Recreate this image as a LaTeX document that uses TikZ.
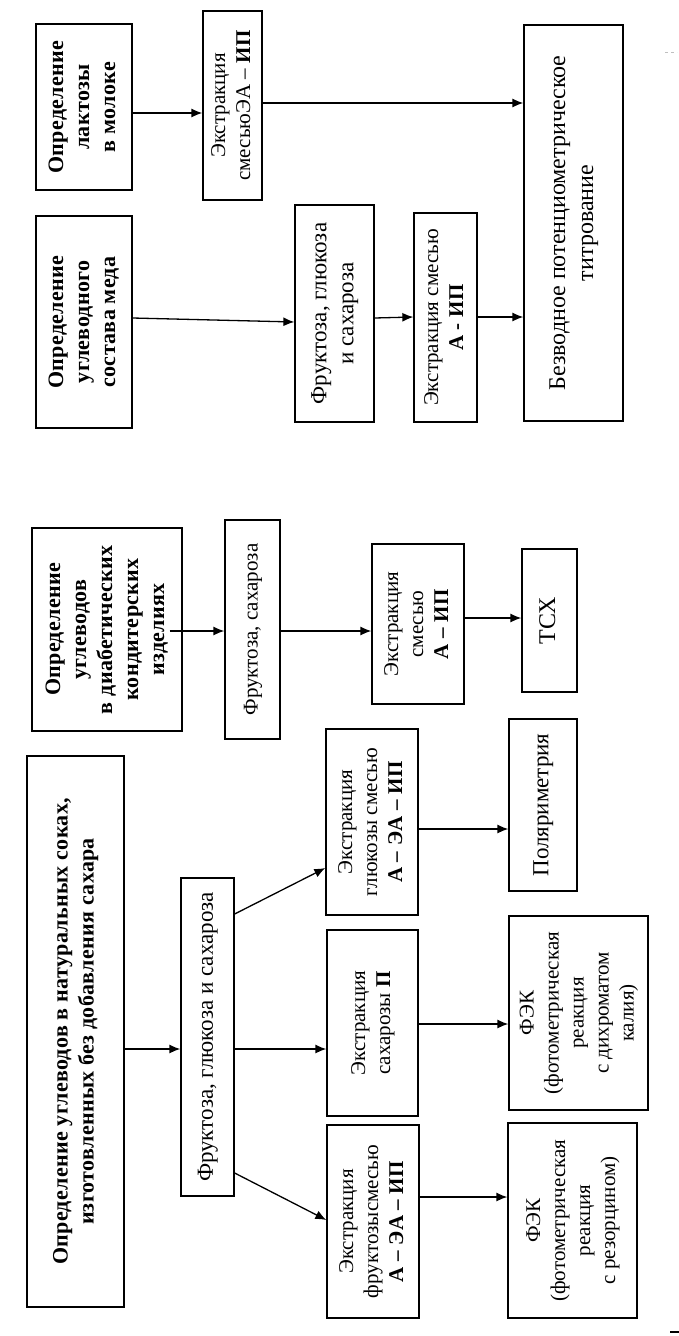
\documentclass[tikz,border=0pt]{standalone}
\usepackage{fontspec}
\setmainfont{Liberation Serif}[BoldFeatures={LetterSpace=1.5}]
\usepackage{graphicx}
\usetikzlibrary{arrows.meta}
\newcommand{\vtext}[1]{\rotatebox{90}{\begin{tabular}{@{}c@{}}#1\end{tabular}}}

\begin{document}
\begin{tikzpicture}[->,>={Latex[length=11pt,width=9pt]},x=1pt,y=-1pt,
                    line width=1.3pt]
  \tikzstyle{block}=[rectangle,draw=black,fill=white,inner sep=0pt,
                     font=\fontsize{21}{25}\selectfont]
  \tikzstyle{head}=[block,font=\bfseries\fontsize{22}{26}\selectfont]
  \tikzstyle{big}=[block,font=\fontsize{23}{27}\selectfont]
  \useasboundingbox (0,0) rectangle (679,1336);

  % milk
  \node[head,minimum width=96pt,minimum height=166pt] (lact) at (84,107)
    {\vtext{Определение\\лактозы\\в молоке}};
  \node[block,minimum width=59pt,minimum height=189pt] (extrEA) at (232.5,105.5)
    {\vtext{Экстракция\\смесьюЭА – \textbf{ИП}}};
  \node[big,font=\fontsize{24}{28}\selectfont,minimum width=99pt,minimum height=396pt] (bezv) at (573.5,223)
    {\vtext{Безводное потенциометрическое\\титрование}};

  % honey
  \node[head,minimum width=96pt,minimum height=212pt] (med) at (84,322)
    {\vtext{Определение\\углеводного\\состава меда}};
  \node[big,minimum width=79pt,minimum height=217pt] (fgs) at (334.5,313.5)
    {\vtext{Фруктоза, глюкоза\\и сахароза}};
  \node[block,minimum width=63pt,minimum height=209pt] (extrA) at (445.5,317.5)
    {\vtext{Экстракция смесью\\\textbf{А - ИП}}};

  % confectionery
  \node[head,minimum width=150pt,minimum height=203pt] (diab) at (107,629.5)
    {\vtext{Определение\\углеводов\\в диабетических\\кондитерских\\изделиях}};
  \node[block,minimum width=55pt,minimum height=219pt] (fs) at (252.5,629.5)
    {\vtext{Фруктоза, сахароза}};
  \node[block,minimum width=92pt,minimum height=160pt] (extrA2) at (418,624)
    {\vtext{Экстракция\\смесью\\\textbf{А – ИП}}};
  \node[big,font=\fontsize{24}{28}\selectfont,minimum width=55pt,minimum height=143pt] (tsx) at (549.5,620.5)
    {\vtext{ТСХ}};

  % juices
  \node[head,minimum width=97pt,minimum height=551pt] (sok) at (75.5,1031.5)
    {\vtext{Определение углеводов в натуральных соках,\\изготовленных без добавления сахара}};
  \node[big,minimum width=53pt,minimum height=318pt] (fgs2) at (207.5,1037)
    {\vtext{Фруктоза, глюкоза и сахароза}};
  \node[block,minimum width=92pt,minimum height=186pt] (extrGlu) at (372,822)
    {\vtext{Экстракция\\глюкозы смесью\\\textbf{А – ЭА – ИП}}};
  \node[big,minimum width=68pt,minimum height=172pt] (polar) at (543,805)
    {\vtext{Поляриметрия}};
  \node[block,minimum width=91pt,minimum height=186pt] (extrSach) at (372.5,1023)
    {\vtext{Экстракция\\сахарозы \textbf{П}}};
  \node[block,minimum width=139pt,minimum height=194pt] (fekD) at (578.5,1013)
    {\vtext{ФЭК\\(фотометрическая\\реакция\\с дихроматом\\калия)}};
  \node[block,minimum width=92pt,minimum height=193pt] (extrFr) at (373,1221.5)
    {\vtext{Экстракция\\фруктозысмесью\\\textbf{А – ЭА – ИП}}};
  \node[block,minimum width=129pt,minimum height=195pt] (fekR) at (572.5,1220.5)
    {\vtext{ФЭК\\(фотометрическая\\реакция\\с резорцином)}};

  \path (lact.east |- 0,113) edge (extrEA.west |- 0,113)
        (extrEA.east |- 0,103) edge (bezv.west |- 0,103)
        (med.east |- 0,318) edge (fgs.west |- 0,322)
        (fgs.east |- 0,318) edge (extrA.west |- 0,317)
        (extrA.east |- 0,317) edge (bezv.west |- 0,317)
        (diab.east |- 0,631) ++(-13,0) edge (fs.west |- 0,631)
        (fs.east |- 0,631) edge (extrA2.west |- 0,631)
        (extrA2.east |- 0,618) edge (tsx.west |- 0,618)
        (sok.east |- 0,1049) edge (fgs2.west |- 0,1049)
        (fgs2.east |- 0,914) edge (extrGlu.west |- 0,868)
        (fgs2.east |- 0,1049) edge (extrSach.west |- 0,1049)
        (fgs2.east |- 0,1173) edge (extrFr.west |- 0,1220)
        (extrGlu.east |- 0,829) edge (polar.west |- 0,829)
        (extrSach.east |- 0,1024) edge (fekD.west |- 0,1024)
        (extrFr.east |- 0,1197) edge (fekR.west |- 0,1197);

  \draw[-,gray!50,dashed,line width=1pt] (665,52) -- (677,52);
  \draw[-,line width=2pt] (670,1332) -- (679,1332);
\end{tikzpicture}
\end{document}
